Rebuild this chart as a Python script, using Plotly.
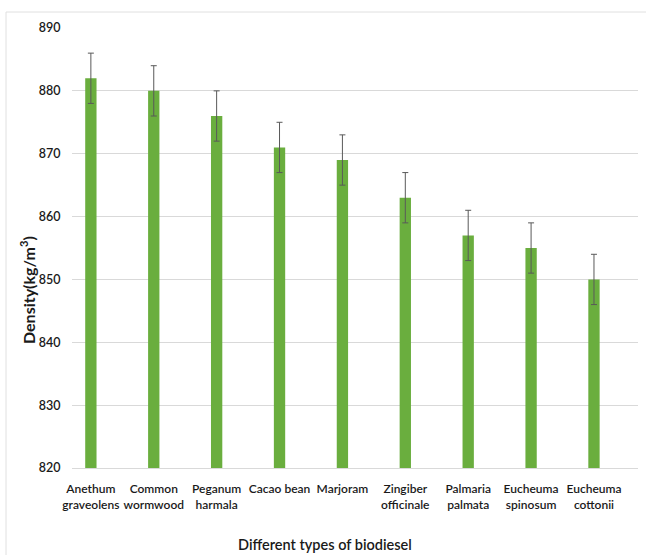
import plotly.graph_objects as go

categories = ["Anethum<br>graveolens", "Common<br>wormwood", "Peganum<br>harmala", "Cacao bean",
              "Marjoram", "Zingiber<br>officinale", "Palmaria<br>palmata", "Eucheuma<br>spinosum",
              "Eucheuma<br>cottonii"]
density = [882, 880, 876, 871, 869, 863, 857, 855, 850]
error = [4, 4, 4, 4, 4, 4, 4, 4, 4]
y_ticks = [820, 830, 840, 850, 860, 870, 880, 890]

font_family = "Lato, Noto Sans, sans-serif"
W, H = 646, 555
L, R, T, B = 72, 8, 28, 87
pw, ph = W - L - R, H - T - B

def px_x(x):
    return (x - L) / pw

def px_y(y):
    return (H - B - y) / ph

fig = go.Figure(go.Bar(
    x=list(range(len(categories))),
    y=[d - 820 for d in density],
    base=820,
    width=0.18,
    marker=dict(color="#6aae3e", line=dict(width=0)),
    error_y=dict(type="data", array=error, color="#595959", thickness=1, width=3),
))

fig.update_layout(
    width=W, height=H,
    margin=dict(l=L, r=R, t=T, b=B),
    paper_bgcolor="white", plot_bgcolor="white",
    showlegend=False,
    font=dict(family=font_family, color="#1a1a1a", size=12),
    xaxis=dict(
        range=[-0.30, 8.70], automargin=False, tickangle=0,
        tickmode="array", tickvals=list(range(len(categories))), ticktext=categories,
        showgrid=False, showline=True, linecolor="#d9d9d9", linewidth=1,
        ticks="outside", ticklen=10, tickcolor="rgba(0,0,0,0)",
        tickfont=dict(size=12, family=font_family, weight=600),
    ),
    yaxis=dict(
        range=[820, 890], tickvals=y_ticks, automargin=False,
        showgrid=True, gridcolor="#d9d9d9", gridwidth=1,
        zeroline=False, showline=False,
        ticks="outside", ticklen=8, tickcolor="rgba(0,0,0,0)",
        tickfont=dict(size=12.5, family=font_family, weight=600),
    ),
    annotations=[
        dict(text="Density(kg/m<sup>3</sup>)", xref="paper", yref="paper",
             x=px_x(27), y=px_y(290), textangle=-90, showarrow=False,
             xanchor="center", yanchor="middle",
             font=dict(size=16, family=font_family, weight="bold", color="#1a1a1a")),
        dict(text="Different types of biodiesel", xref="paper", yref="paper",
             x=px_x(325), y=px_y(544), showarrow=False,
             xanchor="center", yanchor="middle",
             font=dict(size=14.5, family=font_family, weight=600, color="#1a1a1a")),
    ],
    shapes=[
        dict(type="line", xref="paper", yref="paper",
             x0=px_x(6), x1=px_x(6), y0=px_y(12), y1=px_y(560),
             line=dict(color="#e0e0e0", width=1)),
        dict(type="line", xref="paper", yref="paper",
             x0=px_x(6), x1=px_x(650), y0=px_y(12), y1=px_y(12),
             line=dict(color="#e0e0e0", width=1)),
    ],
)

fig.write_html("out.html", post_script="document.body.style.margin='0px';",
               config={"displayModeBar": False})
